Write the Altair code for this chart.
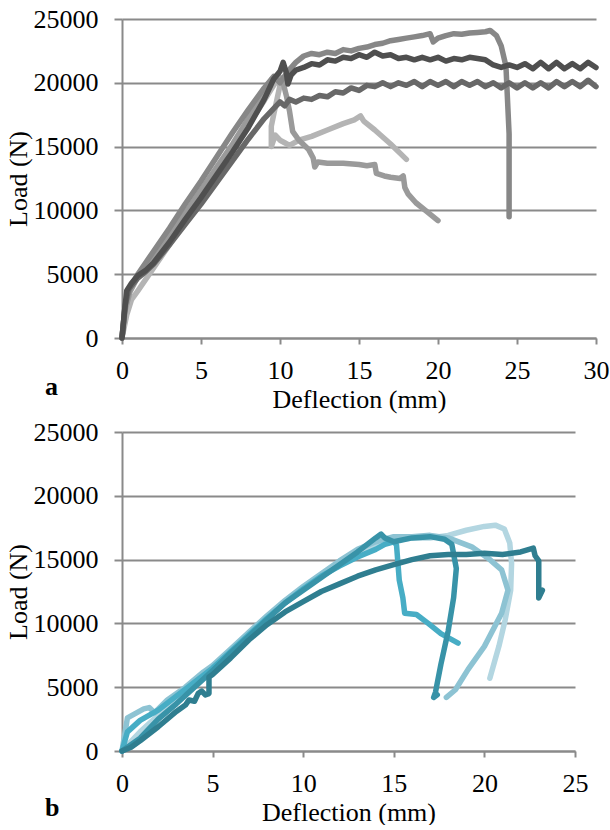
import altair as alt
import pandas as pd

# ---------------- Panel a (grey curves) ----------------
a_names = ["A1", "A2", "A3", "A4", "A5"]
a_colors = ["#b4b4b4", "#9a9a9a", "#878787", "#686868", "#4f4f4f"]

# A1: light grey, drops to 15000 then rises to 17400, ends at 14000
a1_x = [0, 0.3, 0.6, 1, 2, 3, 4, 5, 6, 7, 8, 9, 9.8, 10.0, 9.6, 9.45, 9.45, 9.7, 10.0, 10.3, 10.6, 11.2, 12, 13, 14, 14.7, 15.1, 15.3, 16, 17, 18]
a1_y = [0, 1800, 3000, 3700, 5500, 7300, 9200, 11100, 13000, 14900, 16700, 18600, 20200, 19800, 17500, 16600, 15000, 15900, 15500, 15300, 15100, 15500, 15800, 16300, 16800, 17100, 17400, 17000, 16300, 15200, 14000]

# A2: mid grey, steps down to 9200 at 20 mm
a2_x = [0, 0.2, 0.5, 1, 2, 3, 4, 5, 6, 7, 8, 9, 9.5, 9.9, 10.2, 10.4, 10.6, 10.8, 11.2, 11.8, 12.1, 12.2, 12.4, 13, 14, 15, 15.5, 16, 16.1, 16.6, 17, 17.6, 17.8, 17.9, 18.1, 18.6, 19.3, 20]
a2_y = [0, 2200, 3600, 4800, 6300, 8000, 9800, 11600, 13400, 15200, 17200, 19300, 20300, 20600, 20000, 19000, 17800, 16200, 15500, 14800, 14100, 13400, 13800, 13700, 13700, 13600, 13500, 13600, 12900, 12700, 12600, 12500, 12700, 11800, 11300, 10600, 9900, 9200]

# A3: grey, rises to 24000 then drops vertically at 24.5 mm
a3_x = [0, 0.2, 0.5, 1, 2, 3, 4, 5, 6, 7, 8, 9, 9.6, 10.0, 10.5, 11, 11.5, 12, 12.5, 13, 13.5, 14, 14.5, 15, 15.5, 16, 16.5, 17, 17.5, 18, 18.5, 19, 19.5, 19.7, 20, 20.5, 21, 21.5, 22, 22.5, 23, 23.3, 23.7, 24, 24.3, 24.5, 24.5, 24.5]
a3_y = [0, 2600, 3900, 5000, 6800, 8600, 10500, 12300, 14200, 16100, 17900, 19600, 20500, 20000, 20900, 21600, 22100, 22300, 22200, 22400, 22300, 22600, 22500, 22700, 22800, 23000, 23100, 23300, 23400, 23500, 23600, 23700, 23850, 23200, 23500, 23700, 23850, 23800, 23900, 23950, 24000, 24100, 23700, 22900, 21300, 16000, 9800, 9500]

# A4: dark grey, plateau around 20000
a4_x = [0, 0.2, 0.4, 1, 1.5, 2, 3, 4, 5, 6, 7, 8, 9, 10, 10.3, 10.6, 11, 11.5, 12, 12.5, 13, 13.5, 14, 14.5, 15, 15.5, 16, 16.5, 17, 17.5, 18, 18.5, 19, 19.5, 20, 20.5, 21, 21.5, 22, 22.5, 23, 23.5, 24, 24.5, 25, 25.5, 26, 26.5, 27, 27.5, 28, 28.5, 29, 29.5, 30]
a4_y = [0, 2500, 3800, 4700, 5200, 5800, 7300, 8900, 10500, 12200, 13900, 15600, 17200, 18500, 18200, 18700, 18500, 18800, 18700, 19000, 18900, 19300, 19200, 19600, 19400, 19800, 19700, 20000, 19700, 20000, 19800, 20100, 19700, 20100, 19800, 20100, 19700, 20100, 19800, 20100, 19700, 20000, 19600, 20000, 19600, 20000, 19600, 20000, 19600, 20100, 19700, 20100, 19700, 20200, 19700]

# A5: darkest, peak 21600 at 10 mm, plateau ~21300
a5_x = [0, 0.15, 0.3, 0.6, 1.0, 1.5, 2, 3, 4, 5, 6, 7, 8, 9, 9.6, 10.0, 10.2, 10.4, 10.5, 10.7, 11, 11.5, 12, 12.5, 13, 13.5, 14, 14.5, 15, 15.5, 16, 16.5, 17, 17.5, 18, 18.5, 19, 19.5, 20, 20.5, 21, 21.5, 22, 22.5, 23, 23.5, 24, 24.5, 25, 25.5, 26, 26.5, 27, 27.5, 28, 28.5, 29, 29.5, 30]
a5_y = [0, 2000, 3700, 4300, 4900, 5300, 5900, 7500, 9300, 11000, 12800, 14600, 16500, 18700, 20300, 20900, 21600, 20800, 19900, 20600, 21000, 21200, 21500, 21400, 21800, 21700, 22000, 21900, 22200, 22000, 22400, 22100, 22200, 21900, 22000, 21800, 22000, 21800, 22000, 21700, 21900, 21800, 22000, 21900, 21800, 21400, 21200, 21400, 21200, 21500, 21100, 21600, 21100, 21600, 21100, 21500, 21100, 21600, 21200]

# ---------------- Panel b (teal curves) ----------------
b_names = ["B5", "B4", "B3", "B2", "B1"]
b_colors = ["#b3d6e1", "#8dc3d3", "#47adc5", "#3893a8", "#2f7e90"]

b1_x = [0, 0.5, 1, 2, 3, 3.5, 3.7, 4.0, 4.2, 4.4, 4.6, 4.8, 4.8, 5, 6, 7, 8, 9, 10, 11, 12, 13, 14, 15, 16, 17, 18, 19, 20, 21, 22, 22.7, 22.8, 23.0, 23.0, 23.2]
b1_y = [0, 300, 800, 1900, 3100, 3600, 4000, 3900, 4500, 4700, 4400, 4500, 5800, 6000, 7300, 8700, 9900, 10900, 11700, 12500, 13100, 13700, 14200, 14600, 15000, 15300, 15400, 15400, 15500, 15400, 15600, 15900, 15300, 14900, 12000, 12600]

b2_x = [0, 1, 2, 3, 4, 5, 6, 7, 8, 9, 10, 11, 12, 13, 14, 14.3, 14.5, 15, 16, 17, 17.8, 18.2, 18.45, 18.3, 18.0, 17.6, 17.3, 17.2, 17.4]
b2_y = [0, 1000, 2500, 3700, 5000, 6300, 7700, 9000, 10300, 11600, 12600, 13600, 14600, 15600, 16700, 17000, 16700, 16400, 16700, 16800, 16600, 16200, 14300, 12000, 9400, 6800, 4600, 4200, 4400]

b3_x = [0, 0.3, 1, 2, 3, 4, 5, 6, 7, 8, 9, 10, 11, 12, 13, 14, 14.5, 15.0, 15.15, 15.3, 15.5, 15.6, 16.25, 16.9, 17.6, 18.55]
b3_y = [0, 1500, 2400, 3200, 4300, 5400, 6500, 7800, 9100, 10400, 11600, 12700, 13700, 14500, 15200, 15800, 16200, 16400, 16150, 13400, 12000, 10800, 10700, 10000, 9200, 8460]

b4_x = [0, 0.3, 1.2, 1.5, 1.8, 2.5, 3.5, 4.5, 5, 6, 7, 8, 9, 10, 11, 12, 13, 14, 15, 16, 17, 18, 19.3, 20.3, 20.95, 21.3, 20.95, 20.0, 19.1, 18.4, 17.9]
b4_y = [0, 2600, 3300, 3400, 3000, 4000, 5000, 6200, 6700, 8000, 9300, 10600, 11800, 12900, 13900, 14900, 15800, 16400, 16800, 16800, 16900, 16700, 16000, 15000, 14200, 12600, 10800, 8200, 6400, 4800, 4200]

b5_x = [0, 1, 2, 3, 4, 5, 6, 7, 8, 9, 10, 11, 12, 13, 14, 15, 16, 17, 18, 19, 20, 20.6, 21.1, 21.4, 21.5, 21.45, 21.15, 20.8, 20.3]
b5_y = [0, 1500, 2800, 4000, 5300, 6600, 7900, 9200, 10500, 11700, 12800, 13800, 14600, 15300, 16000, 16500, 16700, 16700, 16900, 17300, 17600, 17700, 17400, 16300, 14700, 12600, 10300, 8200, 5700]

a_ticks = [0, 5, 10, 15, 20, 25, 30]
b_ticks = [0, 5, 10, 15, 20, 25]
y_ticks = [0, 5000, 10000, 15000, 20000, 25000]
panel_labels = ["a", "b"]

FONT = "Liberation Serif"
GRID = "#8a8a8a"
FS = 26


def frame(names, xs_list, ys_list):
    rows = []
    for n, xs, ys in zip(names, xs_list, ys_list):
        for i, (x, y) in enumerate(zip(xs, ys)):
            rows.append({"series": n, "x": x, "y": y, "i": i})
    return pd.DataFrame(rows)


df_a = frame(a_names, [a1_x, a2_x, a3_x, a4_x, a5_x], [a1_y, a2_y, a3_y, a4_y, a5_y])
df_b = frame(b_names, [b5_x, b4_x, b3_x, b2_x, b1_x], [b5_y, b4_y, b3_y, b2_y, b1_y])


def panel(df, names, colors, xmax, ticks, width, label, label_y):
    x_axis = alt.Axis(values=ticks, format="d", grid=False, domainColor=GRID, domainWidth=2,
                      tickColor=GRID, tickWidth=2, tickSize=6, labelPadding=13,
                      labelFlush=False,
                      labelFont=FONT, labelFontSize=FS, labelColor="black",
                      title="Deflection (mm)", titleFont=FONT, titleFontSize=FS,
                      titleFontWeight="normal", titleColor="black",
                      titleY=69, titleBaseline="alphabetic")
    y_axis = alt.Axis(values=y_ticks, format="d", grid=True, gridColor=GRID, gridWidth=2,
                      domainColor=GRID, domainWidth=2, tickColor=GRID, tickWidth=2,
                      tickSize=8, labelPadding=16, labelFlush=False,
                      labelFont=FONT, labelFontSize=FS,
                      labelColor="black", title="Load (N)", titleFont=FONT,
                      titleFontSize=FS, titleFontWeight="normal", titleColor="black",
                      titleX=-96, titleY=159.5, titleBaseline="alphabetic")
    lines = alt.Chart(df).mark_line(strokeWidth=5.5, strokeCap="round",
                                    strokeJoin="round").encode(
        x=alt.X("x:Q", scale=alt.Scale(domain=[0, xmax], nice=False), axis=x_axis),
        y=alt.Y("y:Q", scale=alt.Scale(domain=[0, 25000], nice=False), axis=y_axis),
        color=alt.Color("series:N", scale=alt.Scale(domain=names, range=colors), legend=None),
        order="i:Q",
        detail="series:N",
    )
    txt = alt.Chart(pd.DataFrame({"t": [label]})).mark_text(
        font=FONT, fontSize=FS, fontWeight="bold", align="left",
        baseline="alphabetic", color="black").encode(
        text="t:N", x=alt.value(-77), y=alt.value(label_y))
    return alt.layer(lines, txt).properties(width=width, height=319)


pa = panel(df_a, a_names, a_colors, 30, a_ticks, 474, panel_labels[0], 376)
pb = panel(df_b, b_names, b_colors, 25, b_ticks, 453, panel_labels[1], 384)

chart = alt.vconcat(pa, pb, spacing=7).resolve_scale(
    color="independent", x="independent", y="independent"
).properties(
    padding={"left": 5, "top": 6, "right": 0, "bottom": 0},
    background="white",
).configure_view(strokeWidth=0)

chart.save("out.html", embed_options={"renderer": "svg", "actions": False})
